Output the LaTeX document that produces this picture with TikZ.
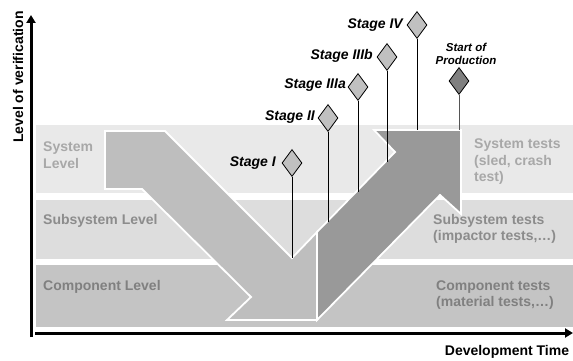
\documentclass[tikz,border=0pt]{standalone}
\usepackage{fontspec}
\setmainfont{Liberation Sans}
\usetikzlibrary{shapes.geometric,arrows.meta}
\definecolor{bandsys}{HTML}{E9E9E9}
\definecolor{bandsub}{HTML}{DDDDDD}
\definecolor{bandcomp}{HTML}{C4C4C4}
\definecolor{downarr}{HTML}{BEBEBE}
\definecolor{uparr}{HTML}{999999}
\definecolor{diafill}{HTML}{C0C0C0}
\definecolor{sopfill}{HTML}{808080}
\definecolor{txtsys}{HTML}{A8A8A8}
\definecolor{txtsub}{HTML}{8C8C8C}
\definecolor{txtcomp}{HTML}{808080}
\definecolor{sopstem}{HTML}{555555}
\begin{document}
\begin{tikzpicture}[x=1pt,y=-1pt,
  font=\fontsize{14}{16.5}\selectfont\bfseries,
  axis/.style={line width=3pt,-{Triangle[length=8pt,width=9pt]}},
  outline/.style={draw=white,line width=1.8pt,line join=miter},
  bandlab/.style={anchor=west,align=left,inner sep=0pt},
  stagelab/.style={font=\fontsize{14}{16.5}\selectfont\bfseries\itshape,inner sep=0pt,anchor=east},
  ms/.style={diamond,draw=black,fill=diafill,minimum width=20pt,minimum height=27pt,inner sep=0pt,line width=0.8pt},
  stem/.style={draw=black,line width=0.9pt}]
\useasboundingbox (0,0) rectangle (573,361);
% bands
\fill[bandsys] (36,125) rectangle (573,193);
\fill[bandsub] (36,200) rectangle (573,259);
\fill[bandcomp] (36,265) rectangle (573,327);
% down arrow
\filldraw[fill=downarr,outline] (105,131) -- (165,131) -- (292,258) -- (317,232) -- (317,320) -- (227,320) -- (251,297) -- (142,189) -- (105,189) -- cycle;
% up arrow
\filldraw[fill=uparr,outline] (317,320) -- (317,232) -- (395,152) -- (374,130) -- (461,130) -- (461,214) -- (440,195) -- cycle;
% axes
\coordinate (yb) at (31,337); \coordinate (yt) at (31,15);
\draw[axis] (yb) -- (yt);
\coordinate (xl) at (35,333); \coordinate (xr) at (573,333);
\draw[axis] (xl) -- (xr);
\node[rotate=90,inner sep=0pt] (ylab) at (18,77) {Level of verification};
\node[inner sep=0pt] (xlab) at (507,352) {Development Time};
% band labels
\node[bandlab,text=txtsys] (sysl) at (43,155) {System\\Level};
\node[bandlab,text=txtsub] (subl) at (43,221) {Subsystem Level};
\node[bandlab,text=txtcomp] (compl) at (43,287) {Component Level};
\node[bandlab,text=txtsys] (syst) at (474,162) {System tests\\(sled, crash\\test)};
\node[bandlab,text=txtsub] (subt) at (433,229) {Subsystem tests\\(impactor tests,…)};
\node[bandlab,text=txtcomp] (compt) at (436,295) {Component tests\\(material tests,…)};
% milestones
\node[ms] (s1) at (292,163) {};
\node[ms] (s2) at (328,118) {};
\node[ms] (s3a) at (358,87) {};
\node[ms] (s3b) at (387,57) {};
\node[ms] (s4) at (417,25) {};
\node[ms,fill=sopfill] (sop) at (459,81) {};
\coordinate (e1) at (292,258);
\coordinate (e2) at (328,222);
\coordinate (e3a) at (358,192);
\coordinate (e3b) at (387,162);
\coordinate (e4) at (417,130);
\coordinate (esop) at (459,130);
\draw[stem] (s1.south) -- (e1);
\draw[stem] (s2.south) -- (e2);
\draw[stem] (s3a.south) -- (e3a);
\draw[stem] (s3b.south) -- (e3b);
\draw[stem] (s4.south) -- (e4);
\draw[stem,draw=sopstem] (sop.south) -- (esop);
\node[stagelab] (l1) at (276,163) {Stage I};
\node[stagelab] (l2) at (315,117) {Stage II};
\node[stagelab] (l3a) at (346,85) {Stage IIIa};
\node[stagelab] (l3b) at (373,56) {Stage IIIb};
\node[stagelab] (l4) at (403,25) {Stage IV};
\node[inner sep=0pt,align=center,font=\fontsize{11.5}{13.5}\selectfont\bfseries\itshape] (sopl) at (466,54) {Start of\\Production};
\end{tikzpicture}
\end{document}
